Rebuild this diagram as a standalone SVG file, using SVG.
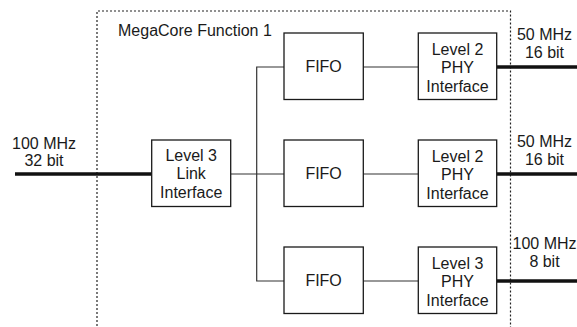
<svg xmlns="http://www.w3.org/2000/svg" width="577" height="327" viewBox="0 0 577 327">
<style>
  .box { fill: #ffffff; stroke: #1a1a1a; stroke-width: 1.3; }
  .wire { fill: none; stroke: #333333; stroke-width: 1.2; }
  .bus { fill: none; stroke: #111111; stroke-width: 3.5; }
  .border { fill: none; stroke: #222222; stroke-width: 1.2; stroke-dasharray: 2 2; }
  text { font-family: "Liberation Sans", Arial, sans-serif; font-size: 16px; fill: #1a1a1a; text-anchor: middle; }
  .lbl { text-anchor: start; }
</style>
<rect width="577" height="327" fill="#ffffff"/>
<g id="megacore">
  <path class="border" d="M97,330 V11 H510.5 V330"/>
  <text class="lbl" x="118" y="36">MegaCore Function 1</text>
</g>
<g id="connectors">
  <line class="bus" x1="15" y1="174" x2="152" y2="174"/>
  <line class="bus" x1="497" y1="67" x2="577" y2="67"/>
  <line class="bus" x1="497" y1="174" x2="577" y2="174"/>
  <line class="bus" x1="497" y1="281" x2="577" y2="281"/>
  <line class="wire" x1="230.5" y1="174" x2="284" y2="174"/>
  <path class="wire" d="M284,67 H256.7 V281 H284"/>
  <line class="wire" x1="363" y1="67" x2="418.5" y2="67"/>
  <line class="wire" x1="363" y1="174" x2="418.5" y2="174"/>
  <line class="wire" x1="363" y1="281" x2="418.5" y2="281"/>
</g>
<g id="label-in">
  <text x="44" y="148.5">100 MHz</text>
  <text x="44" y="165.5">32 bit</text>
</g>
<g id="label-out1">
  <text x="544.5" y="39.5">50 MHz</text>
  <text x="544.5" y="57.5">16 bit</text>
</g>
<g id="label-out2">
  <text x="544.5" y="146.5">50 MHz</text>
  <text x="544.5" y="164.5">16 bit</text>
</g>
<g id="label-out3">
  <text x="544.5" y="249">100 MHz</text>
  <text x="544.5" y="267">8 bit</text>
</g>
<g id="link">
  <rect class="box" x="151.7" y="140" width="79" height="66.5"/>
  <text x="191.2" y="161">Level 3</text>
  <text x="191.2" y="179.3">Link</text>
  <text x="191.2" y="197.5">Interface</text>
</g>
<g id="fifo1">
  <rect class="box" x="284" y="33" width="79.3" height="66.5"/>
  <text x="323.6" y="72">FIFO</text>
</g>
<g id="fifo2">
  <rect class="box" x="284" y="140" width="79.3" height="66.5"/>
  <text x="323.6" y="179">FIFO</text>
</g>
<g id="fifo3">
  <rect class="box" x="284" y="247" width="79.3" height="66.5"/>
  <text x="323.6" y="286">FIFO</text>
</g>
<g id="phy1">
  <rect class="box" x="418.3" y="33" width="78.4" height="66.5"/>
  <text x="457.5" y="54.5">Level 2</text>
  <text x="457.5" y="73">PHY</text>
  <text x="457.5" y="91.5">Interface</text>
</g>
<g id="phy2">
  <rect class="box" x="418.3" y="140" width="78.4" height="66.5"/>
  <text x="457.5" y="161.5">Level 2</text>
  <text x="457.5" y="180">PHY</text>
  <text x="457.5" y="198.5">Interface</text>
</g>
<g id="phy3">
  <rect class="box" x="418.3" y="247" width="78.4" height="66.5"/>
  <text x="457.5" y="268.5">Level 3</text>
  <text x="457.5" y="287">PHY</text>
  <text x="457.5" y="305.5">Interface</text>
</g>
</svg>
